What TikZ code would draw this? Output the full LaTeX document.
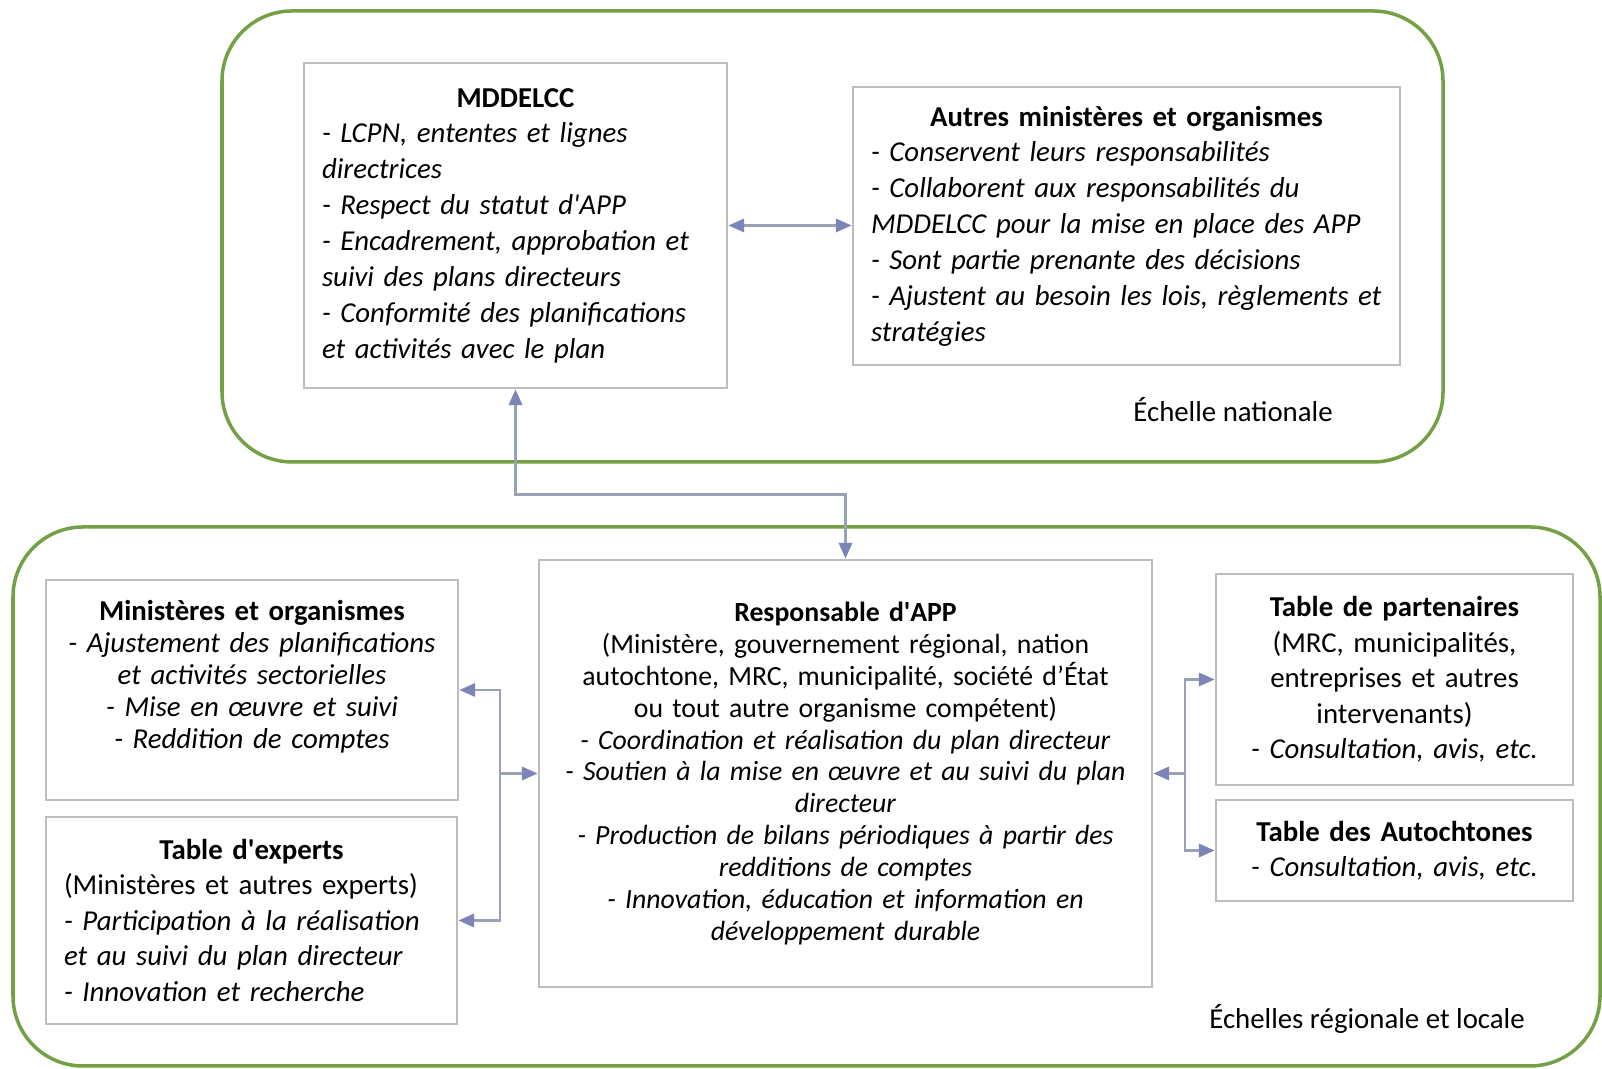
\documentclass[tikz,border=0pt]{standalone}
\usepackage{fontspec}
\setmainfont{Carlito}
\usetikzlibrary{arrows.meta}
\definecolor{zonegreen}{HTML}{74A046}
\definecolor{boxgray}{HTML}{BDBDBD}
\definecolor{linkgray}{HTML}{98A2B4}
\definecolor{tipblue}{HTML}{7C84B8}
\def\puce#1{\textit{- #1}}
\def\titre#1{\centerline{\textbf{#1}}}
\def\ap{\textquotesingle}

\begin{document}
\begin{tikzpicture}[x=1cm,y=1cm,
  zone/.style={draw=zonegreen,line width=1pt,rounded corners=0.7cm},
  boite/.style={draw=boxgray,line width=0.8pt,fill=white,inner sep=0.18cm},
  haut/.style={boite,font=\fontsize{8.2}{10.2}\selectfont,align=left},
  bas/.style={boite,font=\fontsize{8.2}{9.1}\selectfont,align=center},
  large/.style={font=\fontsize{8.2}{10.1}\selectfont},
  lien/.style={draw=linkgray,line width=0.7pt,>={Triangle[length=4.5pt,width=3.8pt,color=tipblue]}}]
\useasboundingbox (0,0) rectangle (16.02,10.69);
% les deux echelles
\draw[zone] (2.22,6.07) rectangle (14.43,10.58);
\draw[zone] (0.13,0.03) rectangle (16.00,5.42);
\node[font=\fontsize{8.2}{9}\selectfont] (nat) at (12.33,6.59) {Échelle nationale};
\node[font=\fontsize{8.2}{9}\selectfont] (reg) at (13.67,0.50) {Échelles régionale et locale};

% echelle nationale
\node[haut,minimum width=4.23cm,minimum height=3.25cm,text width=3.87cm] (mdd) at (5.155,8.435)
  {\titre{MDDELCC}
   \puce{LCPN, ententes et lignes}\\ \textit{directrices}\\
   \puce{Respect du statut d\ap APP}\\
   \puce{Encadrement, approbation et}\\ \textit{suivi des plans directeurs}\\
   \puce{Conformité des planifications}\\ \textit{et activités avec le plan}};
\node[haut,minimum width=5.47cm,minimum height=2.78cm,text width=5.11cm] (autres) at (11.265,8.43)
  {\titre{Autres ministères et organismes}
   \puce{Conservent leurs responsabilités}\\
   \puce{Collaborent aux responsabilités du}\\ \textit{MDDELCC pour la mise en place des APP}\\
   \puce{Sont partie prenante des décisions}\\
   \puce{Ajustent au besoin les lois, règlements et}\\ \textit{stratégies}};

% echelles regionale et locale
\node[bas,minimum width=4.12cm,minimum height=2.20cm,text width=3.76cm] (mini) at (2.52,3.79)
  {\textbf{Ministères et organismes}\\
   \puce{Ajustement des planifications}\\ \textit{et activités sectorielles}\\
   \puce{Mise en œuvre et suivi}\\
   \puce{Reddition de comptes}\\ \mbox{}};
\node[bas,large,align=left,minimum width=4.11cm,minimum height=2.07cm,text width=3.75cm] (exp) at (2.515,1.485)
  {\titre{Table d\ap experts}
   (Ministères et autres experts)\\
   \puce{Participation à la réalisation}\\ \textit{et au suivi du plan directeur}\\
   \puce{Innovation et recherche}};
\node[bas,font=\fontsize{7.9}{9.1}\selectfont,inner xsep=0.12cm,minimum width=6.13cm,minimum height=4.27cm,text width=5.87cm] (resp) at (8.455,2.955)
  {\textbf{Responsable d\ap APP}\\
   (Ministère, gouvernement régional, nation\\
   autochtone, MRC, municipalité, société d’État\\
   ou tout autre organisme compétent)\\
   \puce{Coordination et réalisation du plan directeur}\\
   \puce{Soutien à la mise en œuvre et au suivi du plan}\\ \textit{directeur}\\
   \puce{Production de bilans périodiques à partir des}\\ \textit{redditions de comptes}\\
   \puce{Innovation, éducation et information en}\\ \textit{développement durable}};
\node[bas,large,minimum width=3.57cm,minimum height=2.11cm,text width=3.21cm] (part) at (13.945,3.895)
  {\textbf{Table de partenaires}\\
   (MRC, municipalités,\\ entreprises et autres\\ intervenants)\\
   \puce{Consultation, avis, etc.}};
\node[bas,large,minimum width=3.57cm,minimum height=1.01cm,text width=3.21cm] (auto) at (13.945,2.185)
  {\textbf{Table des Autochtones}\\
   \puce{Consultation, avis, etc.}};

% liens
\draw[lien,<->] (mdd.east) -- (autres.west |- mdd.east);
\draw[lien,<->] (mdd.south) -- ++(0,-1.05) -| (resp.north);
\coordinate (gauche) at (5.00,2.955);
\coordinate (droite) at (11.85,2.955);
\draw[lien,->] (gauche) -- (resp.west);
\draw[lien,->] (gauche) |- (mini.east);
\draw[lien,->] (gauche) |- (exp.east);
\draw[lien,->] (droite) -- (resp.east);
\draw[lien,->] (droite) |- (part.west);
\draw[lien,->] (droite) |- (auto.west);
\end{tikzpicture}
\end{document}
